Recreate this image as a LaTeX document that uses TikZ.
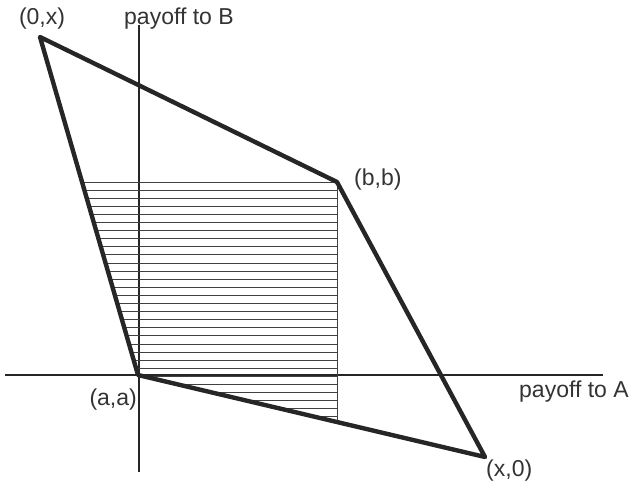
\documentclass[tikz,border=0pt]{standalone}
\usepackage{fontspec}
\setmainfont{Liberation Sans}
\begin{document}
\begin{tikzpicture}[x=1pt,y=-1pt,
  axis/.style={line width=1.4pt,black!85},
  edge/.style={line width=4.4pt,black!85,line join=round,line cap=round},
  hatch/.style={line width=1pt,black!75},
  lbl/.style={font=\fontsize{23}{25}\selectfont,text=black!80,inner sep=0pt}]
\useasboundingbox (0,0) rectangle (634,492);
% vertices
\coordinate (ox) at (40,37);
\coordinate (bb) at (337,182);
\coordinate (xo) at (485,457);
\coordinate (aa) at (138,375);
% axes
\coordinate (yt) at (139,25);
\coordinate (yb) at (139,472);
\coordinate (xl) at (5,375);
\coordinate (xr) at (603,375);
\draw[axis] (yt) -- (yb);
\draw[axis] (xl) -- (xr);
% hatching
\begin{scope}
\clip (ox) -- (bb) -- (xo) -- (aa) -- cycle;
\foreach \i in {0,...,29} {
  \draw[hatch] (0,{182+8.1*\i}) -- (337,{182+8.1*\i});
}
\coordinate (vb) at (337,430);
\draw[hatch] (bb) -- (vb);
\end{scope}
% polygon
\draw[edge] (ox) -- (bb) -- (xo) -- (aa) -- cycle;
% labels
\node[lbl] (lox) at (42,19) {(0,x)};
\node[lbl,anchor=west] (lyb) at (124,19) {payoff to B};
\node[lbl,anchor=west] (lbb) at (354,180) {(b,b)};
\node[lbl,anchor=east] (laa) at (137,400) {(a,a)};
\node[lbl,anchor=west] (lxa) at (519,392) {payoff to A};
\node[lbl,anchor=west] (lxo) at (486,471) {(x,0)};
\end{tikzpicture}
\end{document}
